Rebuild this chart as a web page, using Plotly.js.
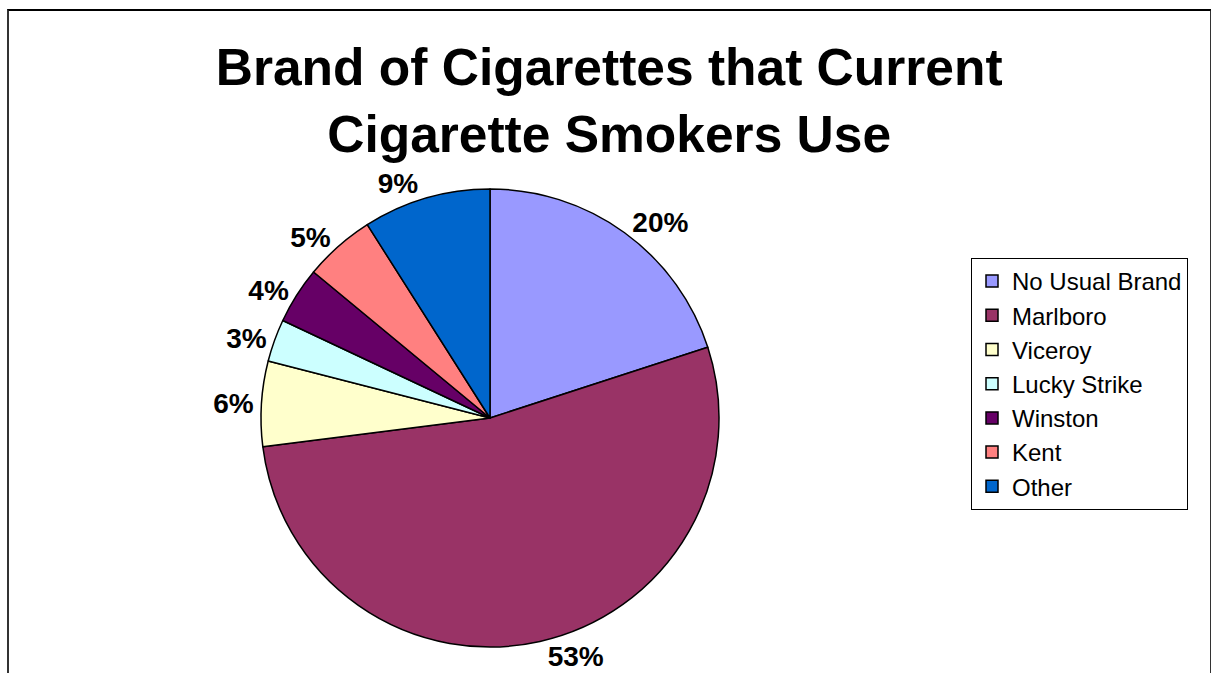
<!DOCTYPE html>
<html>
<head>
<meta charset="utf-8">
<script src="https://cdn.plot.ly/plotly-3.0.1.min.js"></script>
<style>
html,body{margin:0;padding:0;overflow:hidden;background:#fff;}
#chart{position:absolute;left:0;top:0;width:1211px;height:673px;}
#frame{position:absolute;left:7px;top:9px;width:1201px;height:700px;border:2px solid #333;border-top-color:#000;pointer-events:none;}
</style>
</head>
<body>
<div id="chart"></div>
<div id="frame"></div>
<script>
const labels = ["No Usual Brand", "Marlboro", "Viceroy", "Lucky Strike", "Winston", "Kent", "Other"];
const values = [20, 53, 6, 3, 4, 5, 9];
const colors = ["#9999FF", "#993366", "#FFFFCC", "#CCFFFF", "#660066", "#FF8080", "#0066CC"];

const W = 1211, H = 673;
const cx = 490, cy = 418, r = 229;
const FONT = "Liberation Sans, Arial, sans-serif";

const trace = {
  type: "pie",
  labels: labels,
  values: values,
  sort: false,
  direction: "clockwise",
  rotation: 0,
  marker: {colors: colors, line: {color: "#000", width: 1.5}},
  textinfo: "percent",
  texttemplate: "%{percent:.0%}",
  textposition: "outside",
  outsidetextfont: {family: FONT, size: 28, color: "#000", weight: "bold"},
  automargin: false,
  domain: {x: [(cx - r) / W, (cx + r) / W], y: [(H - cy - r) / H, (H - cy + r) / H]},
  hoverinfo: "label+percent"
};

const layout = {
  width: W, height: H,
  margin: {l: 0, r: 0, t: 0, b: 0},
  paper_bgcolor: "rgba(0,0,0,0)",
  title: {
    text: "<b>Brand of Cigarettes that Current<br>Cigarette Smokers Use</b>",
    font: {family: FONT, size: 51.5, color: "#000"},
    x: 0.503, xanchor: "center", y: 0.8737, yanchor: "top"
  },
  showlegend: true,
  legend: {
    x: 971 / W, xanchor: "left", y: (H - 258) / H, yanchor: "top",
    bordercolor: "#000", borderwidth: 1, bgcolor: "#fff",
    font: {family: FONT, size: 24, color: "#000"},
    itemwidth: 30
  }
};

Plotly.newPlot("chart", [trace], layout, {displayModeBar: false, staticPlot: true});
</script>
</body>
</html>
